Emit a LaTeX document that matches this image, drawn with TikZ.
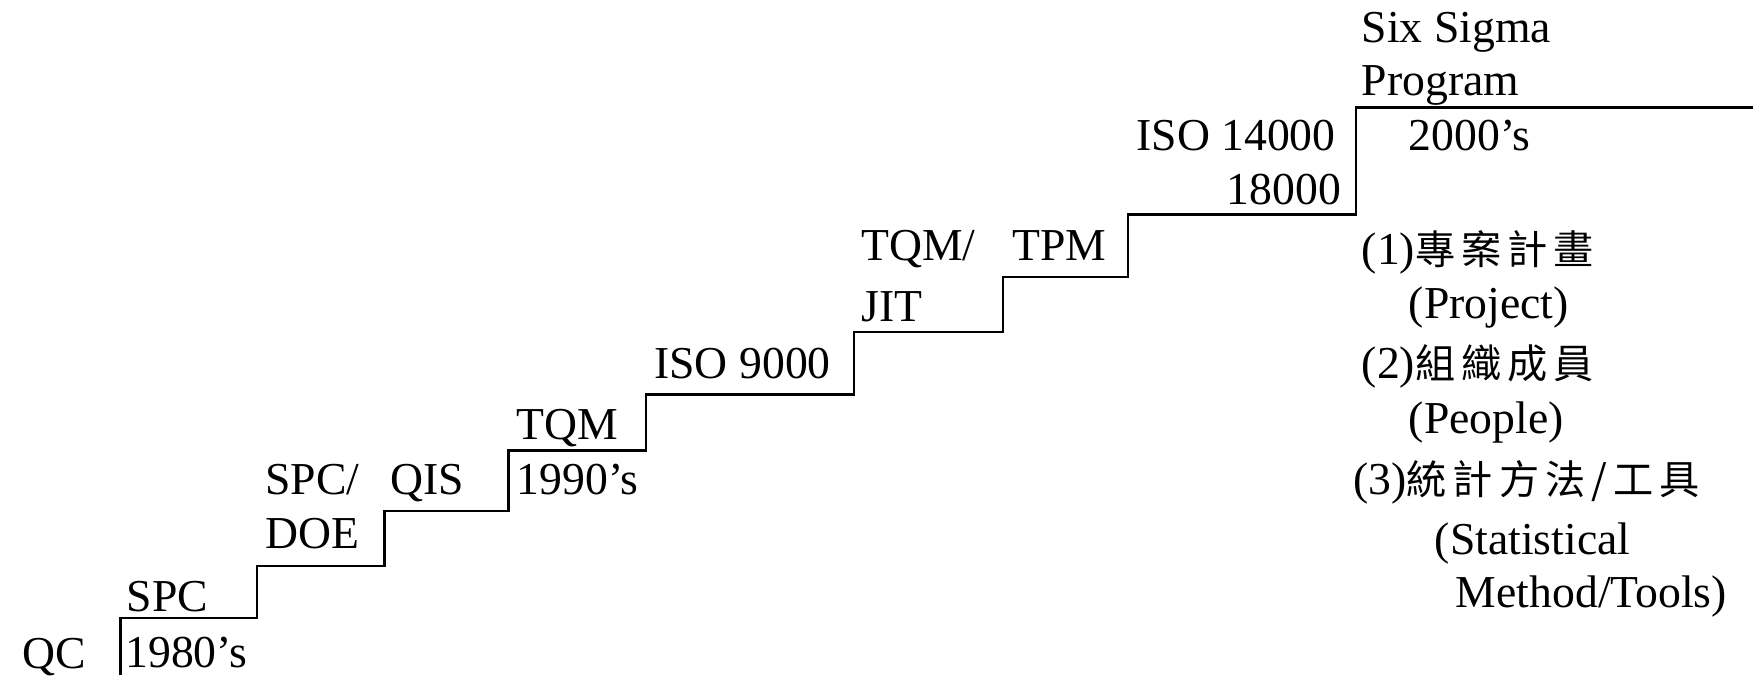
\documentclass[tikz,border=0pt]{standalone}
\usepackage{fontspec}
\setmainfont{Liberation Serif}
\newfontfamily\cjk[Scale=0.88, LetterSpace=15]{Noto Sans CJK TC}
\usepackage{tikz}
\usetikzlibrary{positioning}

\begin{document}
\begin{tikzpicture}[
  stair/.style={line width=1.5pt, black},
  lbl/.style={font=\fontsize{26}{31}\selectfont, inner sep=0pt, anchor=base west},
  lblr/.style={lbl, anchor=base east}
]
\useasboundingbox (0,0) rectangle (35.06,13.5);

% Staircase
\draw[stair] (2.41,0) -- (2.41,1.14) -- (5.14,1.14) -- (5.14,2.18) -- (7.69,2.18)
  -- (7.69,3.28) -- (10.17,3.28) -- (10.17,4.49) -- (12.92,4.49) -- (12.92,5.61)
  -- (17.08,5.61) -- (17.08,6.86) -- (20.06,6.86) -- (20.06,7.96) -- (22.56,7.96)
  -- (22.56,9.21) -- (27.12,9.21) -- (27.12,11.35) -- (35.06,11.35);

% Step 1: 1980's
\node[lbl] (qc) at (0.45,0.13) {QC};
\node[lbl] (y80) at (2.50,0.15) {1980’s};
\node[lbl] (spc) at (2.53,1.27) {SPC};

% Step 2 and 3
\node[lbl] (spcdoe) at (5.30,3.62) {SPC/};
\node[lbl] (doe) at (5.30,2.54) {DOE};
\node[lbl] (qis) at (7.80,3.62) {QIS};

% Step 4: 1990's
\node[lbl] (tqm) at (10.33,4.71) {TQM};
\node[lbl] (y90) at (10.33,3.62) {1990’s};
\node[lbl] (iso9) at (13.08,5.94) {ISO 9000};

% Step 6 and 7
\node[lbl] (tqmjit) at (17.22,8.29) {TQM/};
\node[lbl] (jit) at (17.22,7.08) {JIT};
\node[lbl] (tpm) at (20.24,8.29) {TPM};

% Step 8
\node[lblr] (iso14) at (26.72,10.48) {ISO 14000};
\node[lblr] (iso18) at (26.83,9.41) {18000};

% Top step: 2000's
\node[lbl] (six) at (27.23,12.65) {Six Sigma};
\node[lbl] (prog) at (27.23,11.58) {Program};
\node[lbl] (y00) at (28.17,10.48) {2000’s};

% Six Sigma elements
\node[lbl] (proj) at (27.23,8.20) {(1){\cjk 專案計畫}};
\node[lbl] (projen) at (28.17,7.13) {(Project)};
\node[lbl] (peop) at (27.23,5.94) {(2){\cjk 組織成員}};
\node[lbl] (peopen) at (28.17,4.82) {(People)};
\node[lbl] (stat) at (27.06,3.62) {(3){\cjk 統計方法/工具}};
\node[lbl] (staten) at (28.69,2.41) {(Statistical};
\node[lbl] (tools) at (29.11,1.36) {Method/Tools)};

\end{tikzpicture}
\end{document}
